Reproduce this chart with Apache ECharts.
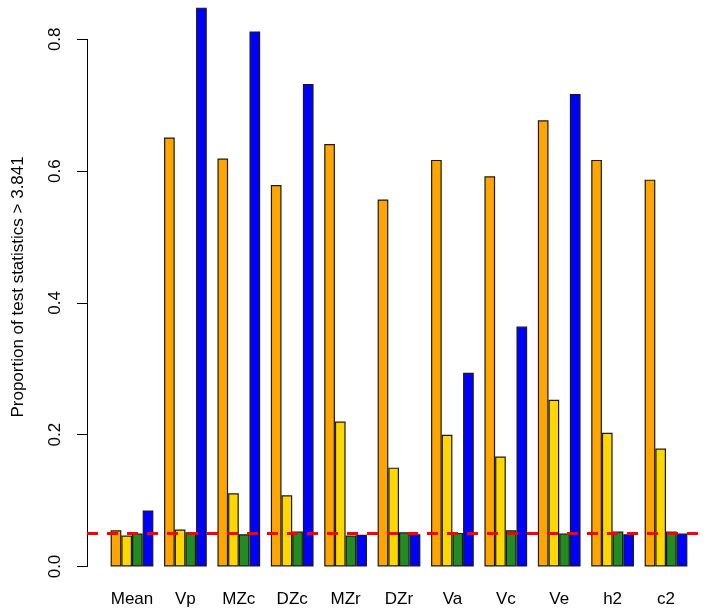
<!DOCTYPE html>
<html>
<head>
<meta charset="utf-8">
<script src="https://cdn.jsdelivr.net/npm/echarts@6/dist/echarts.min.js"></script>
<style>html,body{margin:0;padding:0;background:#fff}#c{width:714px;height:616px}</style>
</head>
<body>
<div id="c"></div>
<script>
var categories = ['Mean','Vp','MZc','DZc','MZr','DZr','Va','Vc','Ve','h2','c2'];
var orangeVals = [0.055, 0.651, 0.619, 0.579, 0.641, 0.557, 0.617, 0.592, 0.677, 0.617, 0.587];
var goldVals   = [0.047, 0.056, 0.111, 0.108, 0.220, 0.150, 0.200, 0.167, 0.253, 0.203, 0.179];
var greenVals  = [0.050, 0.052, 0.049, 0.053, 0.047, 0.052, 0.051, 0.055, 0.050, 0.053, 0.053];
var blueVals   = [0.085, 0.848, 0.812, 0.732, 0.048, 0.049, 0.294, 0.364, 0.717, 0.049, 0.050];
var refLevel = 0.05;
var yTicks = [0.0, 0.2, 0.4, 0.6, 0.8];
var yTitle = 'Proportion of test statistics > 3.841';

var FONT = '"Liberation Sans", Arial, Helvetica, sans-serif';
var chart = echarts.init(document.getElementById('c'), null, {renderer: 'canvas'});

function barSeries(vals, color) {
  return {
    type: 'bar', xAxisIndex: 0, yAxisIndex: 0, data: vals, clip: false,
    barGap: '0%', barCategoryGap: '20%',
    itemStyle: {color: color, borderColor: '#1a1a1a', borderWidth: 1.2},
    emphasis: {disabled: true}, z: 2
  };
}

chart.setOption({
  animation: false,
  backgroundColor: '#fff',
  textStyle: {fontFamily: FONT},
  grid: [
    {left: 105.3, right: 21.3, top: 39.3, bottom: 49.5},
    {left: 87, right: 9, top: 39.3, bottom: 49.5}
  ],
  xAxis: [
    {type: 'category', gridIndex: 0, data: categories,
     axisLine: {show: false}, axisTick: {show: false},
     axisLabel: {color: '#000', fontSize: 17, fontFamily: FONT, margin: 24, interval: 0}},
    {type: 'value', gridIndex: 1, min: 0, max: 1, show: false}
  ],
  yAxis: [
    {type: 'value', gridIndex: 0, min: yTicks[0], max: yTicks[yTicks.length-1], interval: 0.2,
     offset: 18.3,
     name: yTitle, nameLocation: 'middle', nameRotate: 90, nameGap: 60,
     nameTextStyle: {color: '#000', fontSize: 17, fontFamily: FONT, padding: [0,0,0,32]},
     axisLine: {show: true, lineStyle: {color: '#000', width: 1}},
     axisTick: {show: true, length: 10, lineStyle: {color: '#000', width: 1}},
     axisLabel: {color: '#000', fontSize: 17, fontFamily: FONT, rotate: 90, margin: 23,
                 formatter: function(v){ return v.toFixed(1); }},
     splitLine: {show: false}},
    {type: 'value', gridIndex: 1, min: yTicks[0], max: yTicks[yTicks.length-1], show: false}
  ],
  series: [
    barSeries(orangeVals, '#FFA500'),
    barSeries(goldVals, '#FFD700'),
    barSeries(greenVals, '#228B22'),
    barSeries(blueVals, '#0000FF'),
    {type: 'line', xAxisIndex: 1, yAxisIndex: 1, data: [[0, refLevel], [1, refLevel]],
     symbol: 'none', z: 5, silent: true,
     lineStyle: {color: '#FF0000', width: 3, type: [11, 9]}}
  ]
});
</script>
</body>
</html>
